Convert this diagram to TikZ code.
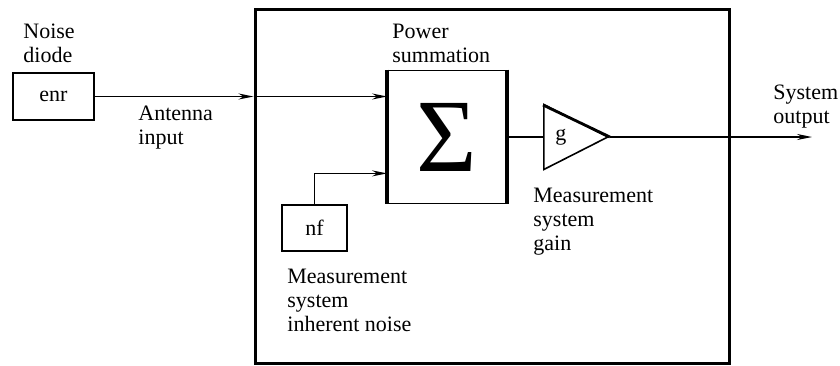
\documentclass[tikz,border=0pt]{standalone}
\usepackage{fontspec}
\setmainfont{Liberation Serif}
\usepackage{tikz}
\usetikzlibrary{shapes.geometric, arrows.meta, positioning, calc}

\begin{document}
\begin{tikzpicture}[
    x=0.5pt, y=-0.5pt,
    font=\fontsize{11}{12}\selectfont,
    block/.style={rectangle, draw, line width=0.9pt, inner sep=0pt},
    frame/.style={rectangle, draw, line width=1.5pt, minimum width=237pt, minimum height=177pt},
    amp/.style={isosceles triangle, isosceles triangle stretches, draw, line width=0.8pt, inner sep=0pt, minimum height=32pt, minimum width=32.5pt, anchor=lower side},
    txt/.style={align=left, inner sep=0pt, anchor=north west},
    thickedge/.style={line width=1.8pt},
    arrow/.style={-{Stealth[length=7.5pt, width=3pt]}, line width=0.7pt},
    wire/.style={line width=0.7pt}
]
\useasboundingbox (0,0) rectangle (840,365);

% Measurement system
\node[frame] (sys) at (492,186) {};

% Blocks
\node[block, line width=1.2pt, minimum width=40.5pt, minimum height=23.5pt] (enr) at (53.5,96.5) {enr};
\node[block, minimum width=59pt, minimum height=66.5pt] (sum) at (447,137) {\fontsize{52}{52}\selectfont Σ\hspace{13pt}};
\node[block, minimum width=32.5pt, minimum height=23pt] (nf) at (314.5,228) {nf};
\node[amp] (gain) at (543,137) {g};
\coordinate (out) at (812,137);

% Heavy edges
\draw[thickedge] (sum.north west) -- (sum.south west);
\draw[thickedge] (sum.north east) -- (sum.south east);
\draw[thickedge, line width=1.4pt] ([yshift=16pt]gain.lower side) -- (gain.apex);

% Labels
\node[txt] (diodelbl) at (23,24) {Noise\\diode};
\node[txt] (antlbl) at (138,106) {Antenna\\input};
\node[txt] (sumlbl) at (392,24) {Power\\summation};
\node[txt] (outlbl) at (773,85) {System\\output};
\node[txt] (gainlbl) at (533,188) {Measurement\\system\\gain};
\node[txt] (nflbl) at (287,269) {Measurement\\system\\inherent noise};

% Arrows
\draw[arrow] (enr.east) -- (enr.east -| sys.west);
\draw[arrow] (enr.east -| sys.west) -- (enr.east -| sum.west);
\draw[arrow] (nf.north) |- ([yshift=15.5pt]sum.south west);
\draw[wire] (sum.east) -- (gain.lower side);
\draw[arrow] (gain.apex) -- (out);
\end{tikzpicture}
\end{document}
